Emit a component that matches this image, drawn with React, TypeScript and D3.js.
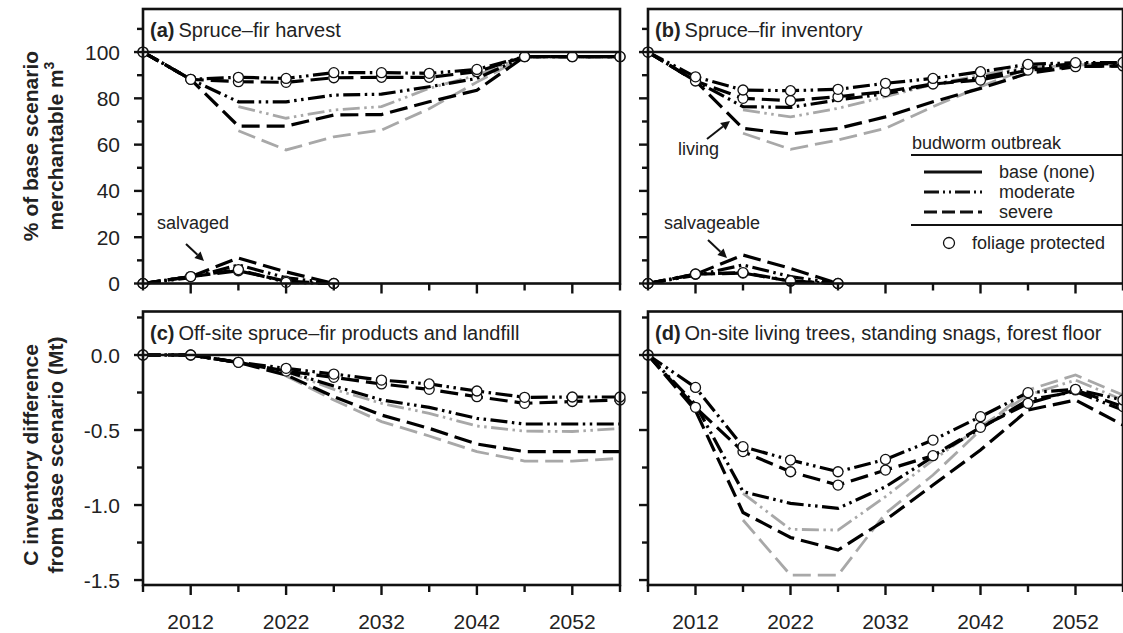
import React from 'react';
import * as d3 from 'd3';

// ---------- data ----------
const years = [2007, 2012, 2017, 2022, 2027, 2032, 2037, 2042, 2047, 2052, 2057];
const salvYears = [2007, 2012, 2017, 2022, 2027];

// (a) Spruce–fir harvest, living (% of base)
const aModProt = [100, 88.2, 89.1, 88.6, 91.1, 91.1, 90.8, 92.5, 98, 98, 98];
const aSevProt = [100, 88.2, 87.2, 86.9, 88.9, 89.1, 89.1, 91.5, 98, 98, 98];
const aModBlack = [100, 88.2, 78.5, 78.5, 81.4, 81.8, 85, 88.6, 98, 98, 98];
const aSevBlack = [100, 88.2, 68, 68, 72.8, 73, 78.5, 83.5, 98, 98, 98];
const aModGray = [null, null, 76.4, 71.4, 75, 76.4, 84.3, 90, 98, 98, 98];
const aSevGray = [null, null, 66, 57.7, 63.4, 66.3, 75.5, 87, 98, 98, 98];
// (a) salvaged
const aSalvModProt = [0, 3, 6, 0.5, 0];
const aSalvSevProt = [0, 3, 5.5, 1, 0];
const aSalvModBlack = [0, 2.5, 8, 2.5, 0];
const aSalvSevBlack = [0, 3, 11, 5, 0];

// (b) Spruce–fir inventory, living
const bModProt = [100, 89.3, 83.6, 83.3, 83.9, 86.5, 88.6, 91.5, 94.7, 95.4, 95.5];
const bSevProt = [100, 87.5, 80.0, 79.0, 80.7, 82.9, 86.2, 87.9, 92.2, 93.7, 94];
const bModBlack = [100, 87.5, 76.4, 76.1, 79.3, 82, 86, 89, 93, 95, 95];
const bSevBlack = [100, 87.5, 67, 64.6, 67, 72, 78.5, 84.3, 90.8, 93.7, 94];
const bModGray = [null, null, 75, 72, 75.7, 80.7, 86, 90, 94, 95, 95.5];
const bSevGray = [null, null, 64.9, 58, 62, 67, 76.4, 85, 93, 94.4, 95];
// (b) salvageable
const bSalvModProt = [0, 4.1, 4.7, 1.1, 0];
const bSalvSevProt = [0, 4, 4.5, 1, 0];
const bSalvModBlack = [0, 3.5, 8, 3, 0];
const bSalvSevBlack = [0, 4, 12.3, 6.5, 0];

// (c) Off-site products and landfill (Mt)
const cModProt = [0, 0, -0.049, -0.089, -0.127, -0.167, -0.193, -0.24, -0.282, -0.28, -0.28];
const cSevProt = [0, 0, -0.049, -0.107, -0.149, -0.193, -0.229, -0.278, -0.322, -0.31, -0.3];
const cModBlack = [0, 0, -0.05, -0.11, -0.207, -0.3, -0.349, -0.422, -0.46, -0.46, -0.46];
const cSevBlack = [0, 0, -0.05, -0.133, -0.278, -0.4, -0.489, -0.593, -0.644, -0.644, -0.644];
const cModGray = [null, null, null, -0.11, -0.229, -0.322, -0.389, -0.473, -0.507, -0.51, -0.49];
const cSevGray = [null, null, null, -0.14, -0.3, -0.444, -0.54, -0.644, -0.707, -0.707, -0.689];

// (d) On-site living trees, snags, forest floor (Mt)
const dModProt = [0, -0.216, -0.611, -0.7, -0.778, -0.696, -0.567, -0.411, -0.251, -0.229, -0.3];
const dSevProt = [0, -0.349, -0.644, -0.778, -0.867, -0.767, -0.671, -0.482, -0.322, -0.233, -0.344];
const dModBlack = [0, -0.33, -0.911, -0.989, -1.022, -0.878, -0.678, -0.489, -0.3, -0.244, -0.367];
const dSevBlack = [0, -0.37, -1.05, -1.216, -1.3, -1.1, -0.867, -0.633, -0.367, -0.3, -0.467];
const dModGray = [null, null, -0.922, -1.162, -1.167, -0.944, -0.7, -0.478, -0.267, -0.167, -0.3];
const dSevGray = [null, null, -1.1, -1.467, -1.467, -1.056, -0.8, -0.5, -0.233, -0.133, -0.267];

const pctTicks = [0, 20, 40, 60, 80, 100];
const pctMinor = [10, 30, 50, 70, 90, 110];
const mtTicks = [0, -0.5, -1.0, -1.5];
const mtMinor = [0.25, -0.25, -0.75, -1.25];
const xMajor = [2012, 2022, 2032, 2042, 2052];
const xMinor = [2007, 2017, 2027, 2037, 2047, 2057];

const legendItems = ['base (none)', 'moderate', 'severe'];

// ---------- style ----------
const FONT = '"Liberation Sans", Arial, Helvetica, sans-serif';
const GRAY = '#a8a8a8';
const DASH_SEV = '18,7';
const DASH_MOD = '17,4.5,2.5,4.5,2.5,4.5';

type Series = { xs: number[]; vals: (number | null)[]; kind: 'mod' | 'sev'; color: string; circles: boolean };

function mk(xs: number[], vals: (number | null)[], kind: 'mod' | 'sev', color: string, circles: boolean): Series {
  return { xs, vals, kind, color, circles };
}

type PanelCfg = {
  x0: number; x1: number; yTop: number; yBot: number;
  yDomain: [number, number]; strip: number;
  major: number[]; minor: number[]; fmt: (v: number) => string;
  showY: boolean; showX: boolean;
  tag: string; title: string; series: Series[];
};

function Panel({ c }: { c: PanelCfg }) {
  const x = d3.scaleLinear().domain([2007, 2057]).range([c.x0, c.x1]);
  const y = d3.scaleLinear().domain(c.yDomain).range([c.yBot, c.yTop]);
  const gen = (s: Series) =>
    d3.line<number | null>()
      .defined((v) => v !== null)
      .x((_, i) => x(s.xs[i]))
      .y((v) => y(v as number))(s.vals) || '';
  const order = [...c.series.filter((s) => s.color !== 'black'), ...c.series.filter((s) => s.color === 'black')];
  return (
    <g>
      <text x={c.x0 + 7} y={c.yTop + 28} fontSize={20} fontFamily={FONT} fill="#222">
        <tspan fontWeight="bold">{c.tag}</tspan>
        <tspan dx={4}>{c.title}</tspan>
      </text>
      {order.map((s, i) => (
        <path key={'l' + i} d={gen(s)} fill="none" stroke={s.color} strokeWidth={s.color === 'black' ? 3.2 : 2.8}
          strokeDasharray={s.kind === 'sev' ? DASH_SEV : DASH_MOD} />
      ))}
      {c.series.filter((s) => s.circles).map((s, i) =>
        s.vals.map((v, j) => v === null ? null : (
          <circle key={'c' + i + '-' + j} cx={x(s.xs[j])} cy={y(v)} r={5} fill="white" stroke="#111" strokeWidth={1.3} />
        ))
      )}
      <line x1={c.x0} x2={c.x1} y1={y(c.strip)} y2={y(c.strip)} stroke="#111" strokeWidth={2.6} />
      <rect x={c.x0} y={c.yTop} width={c.x1 - c.x0} height={c.yBot - c.yTop} fill="none" stroke="#111" strokeWidth={2.6} />
      {c.major.map((t) => (
        <g key={'ym' + t}>
          <line x1={c.x0 - 9} x2={c.x0} y1={y(t)} y2={y(t)} stroke="#111" strokeWidth={2.4} />
          {c.showY && (
            <text x={c.x0 - 23} y={y(t)} dy="0.36em" textAnchor="end" fontSize={21} fontFamily={FONT} fill="#222">{c.fmt(t)}</text>
          )}
        </g>
      ))}
      {c.minor.map((t) => (
        <line key={'yn' + t} x1={c.x0 - 6} x2={c.x0} y1={y(t)} y2={y(t)} stroke="#111" strokeWidth={2.4} />
      ))}
      {xMajor.map((t) => (
        <g key={'xm' + t}>
          <line x1={x(t)} x2={x(t)} y1={c.yBot} y2={c.yBot + 10} stroke="#111" strokeWidth={2.4} />
          {c.showX && (
            <text x={x(t)} y={c.yBot + 44} textAnchor="middle" fontSize={21} fontFamily={FONT} fill="#222">{t}</text>
          )}
        </g>
      ))}
      {xMinor.map((t) => (
        <line key={'xn' + t} x1={x(t)} x2={x(t)} y1={c.yBot} y2={c.yBot + 7} stroke="#111" strokeWidth={2.4} />
      ))}
    </g>
  );
}

function Arrow({ x1, y1, x2, y2 }: { x1: number; y1: number; x2: number; y2: number }) {
  const a = Math.atan2(y2 - y1, x2 - x1);
  const L = 9, Wd = 4.5;
  const bx = x2 - L * Math.cos(a), by = y2 - L * Math.sin(a);
  const p1 = [bx + Wd * Math.sin(a), by - Wd * Math.cos(a)];
  const p2 = [bx - Wd * Math.sin(a), by + Wd * Math.cos(a)];
  return (
    <g>
      <line x1={x1} y1={y1} x2={bx} y2={by} stroke="#111" strokeWidth={2} />
      <polygon points={`${x2},${y2} ${p1[0]},${p1[1]} ${p2[0]},${p2[1]}`} fill="#111" />
    </g>
  );
}

export default function App() {
  const fmtPct = (v: number) => String(v);
  const fmtMt = (v: number) => d3.format('.1f')(v).replace('−', '-');
  const top = { yTop: 9, yBot: 283.5, yDomain: [0, 118.6] as [number, number], strip: 100, major: pctTicks, minor: pctMinor, fmt: fmtPct, showX: false };
  const bot = { yTop: 311.5, yBot: 585, yDomain: [-1.533, 0.29] as [number, number], strip: 0, major: mtTicks, minor: mtMinor, fmt: fmtMt, showX: true };
  const L = { x0: 143, x1: 620 };
  const R = { x0: 648, x1: 1123 };

  const panels: PanelCfg[] = [
    {
      ...top, ...L, showY: true, tag: '(a)', title: 'Spruce–fir harvest',
      series: [
        mk(years, aModGray, 'mod', GRAY, false), mk(years, aSevGray, 'sev', GRAY, false),
        mk(years, aModBlack, 'mod', 'black', false), mk(years, aSevBlack, 'sev', 'black', false),
        mk(years, aSevProt, 'sev', 'black', true), mk(years, aModProt, 'mod', 'black', true),
        mk(salvYears, aSalvModBlack, 'mod', 'black', false), mk(salvYears, aSalvSevBlack, 'sev', 'black', false),
        mk(salvYears, aSalvSevProt, 'sev', 'black', true), mk(salvYears, aSalvModProt, 'mod', 'black', true),
      ],
    },
    {
      ...top, ...R, showY: false, tag: '(b)', title: 'Spruce–fir inventory',
      series: [
        mk(years, bModGray, 'mod', GRAY, false), mk(years, bSevGray, 'sev', GRAY, false),
        mk(years, bModBlack, 'mod', 'black', false), mk(years, bSevBlack, 'sev', 'black', false),
        mk(years, bSevProt, 'sev', 'black', true), mk(years, bModProt, 'mod', 'black', true),
        mk(salvYears, bSalvModBlack, 'mod', 'black', false), mk(salvYears, bSalvSevBlack, 'sev', 'black', false),
        mk(salvYears, bSalvSevProt, 'sev', 'black', true), mk(salvYears, bSalvModProt, 'mod', 'black', true),
      ],
    },
    {
      ...bot, ...L, showY: true, tag: '(c)', title: 'Off-site spruce–fir products and landfill',
      series: [
        mk(years, cModGray, 'mod', GRAY, false), mk(years, cSevGray, 'sev', GRAY, false),
        mk(years, cModBlack, 'mod', 'black', false), mk(years, cSevBlack, 'sev', 'black', false),
        mk(years, cSevProt, 'sev', 'black', true), mk(years, cModProt, 'mod', 'black', true),
      ],
    },
    {
      ...bot, ...R, showY: false, tag: '(d)', title: 'On-site living trees, standing snags, forest floor',
      series: [
        mk(years, dModGray, 'mod', GRAY, false), mk(years, dSevGray, 'sev', GRAY, false),
        mk(years, dModBlack, 'mod', 'black', false), mk(years, dSevBlack, 'sev', 'black', false),
        mk(years, dSevProt, 'sev', 'black', true), mk(years, dModProt, 'mod', 'black', true),
      ],
    },
  ];

  const legendDash = ['', '15,4,2,4,2,4', '13,5'];

  return (
    <svg width={1123} height={633} style={{ position: 'absolute', left: 0, top: 0, background: 'white' }} fontFamily={FONT}>
      <rect x={0} y={0} width={1123} height={633} fill="white" />
      {panels.map((p, i) => <Panel key={i} c={p} />)}

      <g fontSize={21} fontWeight="bold" fill="#222" textAnchor="middle">
        <text transform="translate(38,146) rotate(-90)">% of base scenario</text>
        <text transform="translate(63,146) rotate(-90)">merchantable m<tspan fontSize={14} dy={-9}>3</tspan></text>
        <text transform="translate(38,455) rotate(-90)">C inventory difference</text>
        <text transform="translate(63,455) rotate(-90)">from base scenario (Mt)</text>
      </g>

      <g fontSize={18} fill="#222">
        <text x={157} y={229}>salvaged</text>
        <Arrow x1={186} y1={244} x2={204} y2={261} />
        <text x={678} y={155}>living</text>
        <Arrow x1={707} y1={139} x2={730} y2={121} />
        <text x={664} y={229}>salvageable</text>
        <Arrow x1={708} y1={240} x2={727} y2={258} />
      </g>

      <g fontSize={18} fill="#222">
        <text x={912} y={149}>budworm outbreak</text>
        <line x1={911} x2={1123} y1={155} y2={155} stroke="#111" strokeWidth={2} />
        {legendItems.map((t, i) => (
          <g key={t}>
            <line x1={924} x2={982} y1={172 + i * 20} y2={172 + i * 20} stroke="#111" strokeWidth={3}
              strokeDasharray={legendDash[i] || undefined} />
            <text x={999} y={172 + i * 20} dy="0.35em">{t}</text>
          </g>
        ))}
        <line x1={911} x2={1123} y1={225} y2={225} stroke="#111" strokeWidth={2} />
        <circle cx={949} cy={243} r={5.5} fill="white" stroke="#111" strokeWidth={1.3} />
        <text x={972} y={243} dy="0.35em">foliage protected</text>
      </g>
    </svg>
  );
}
